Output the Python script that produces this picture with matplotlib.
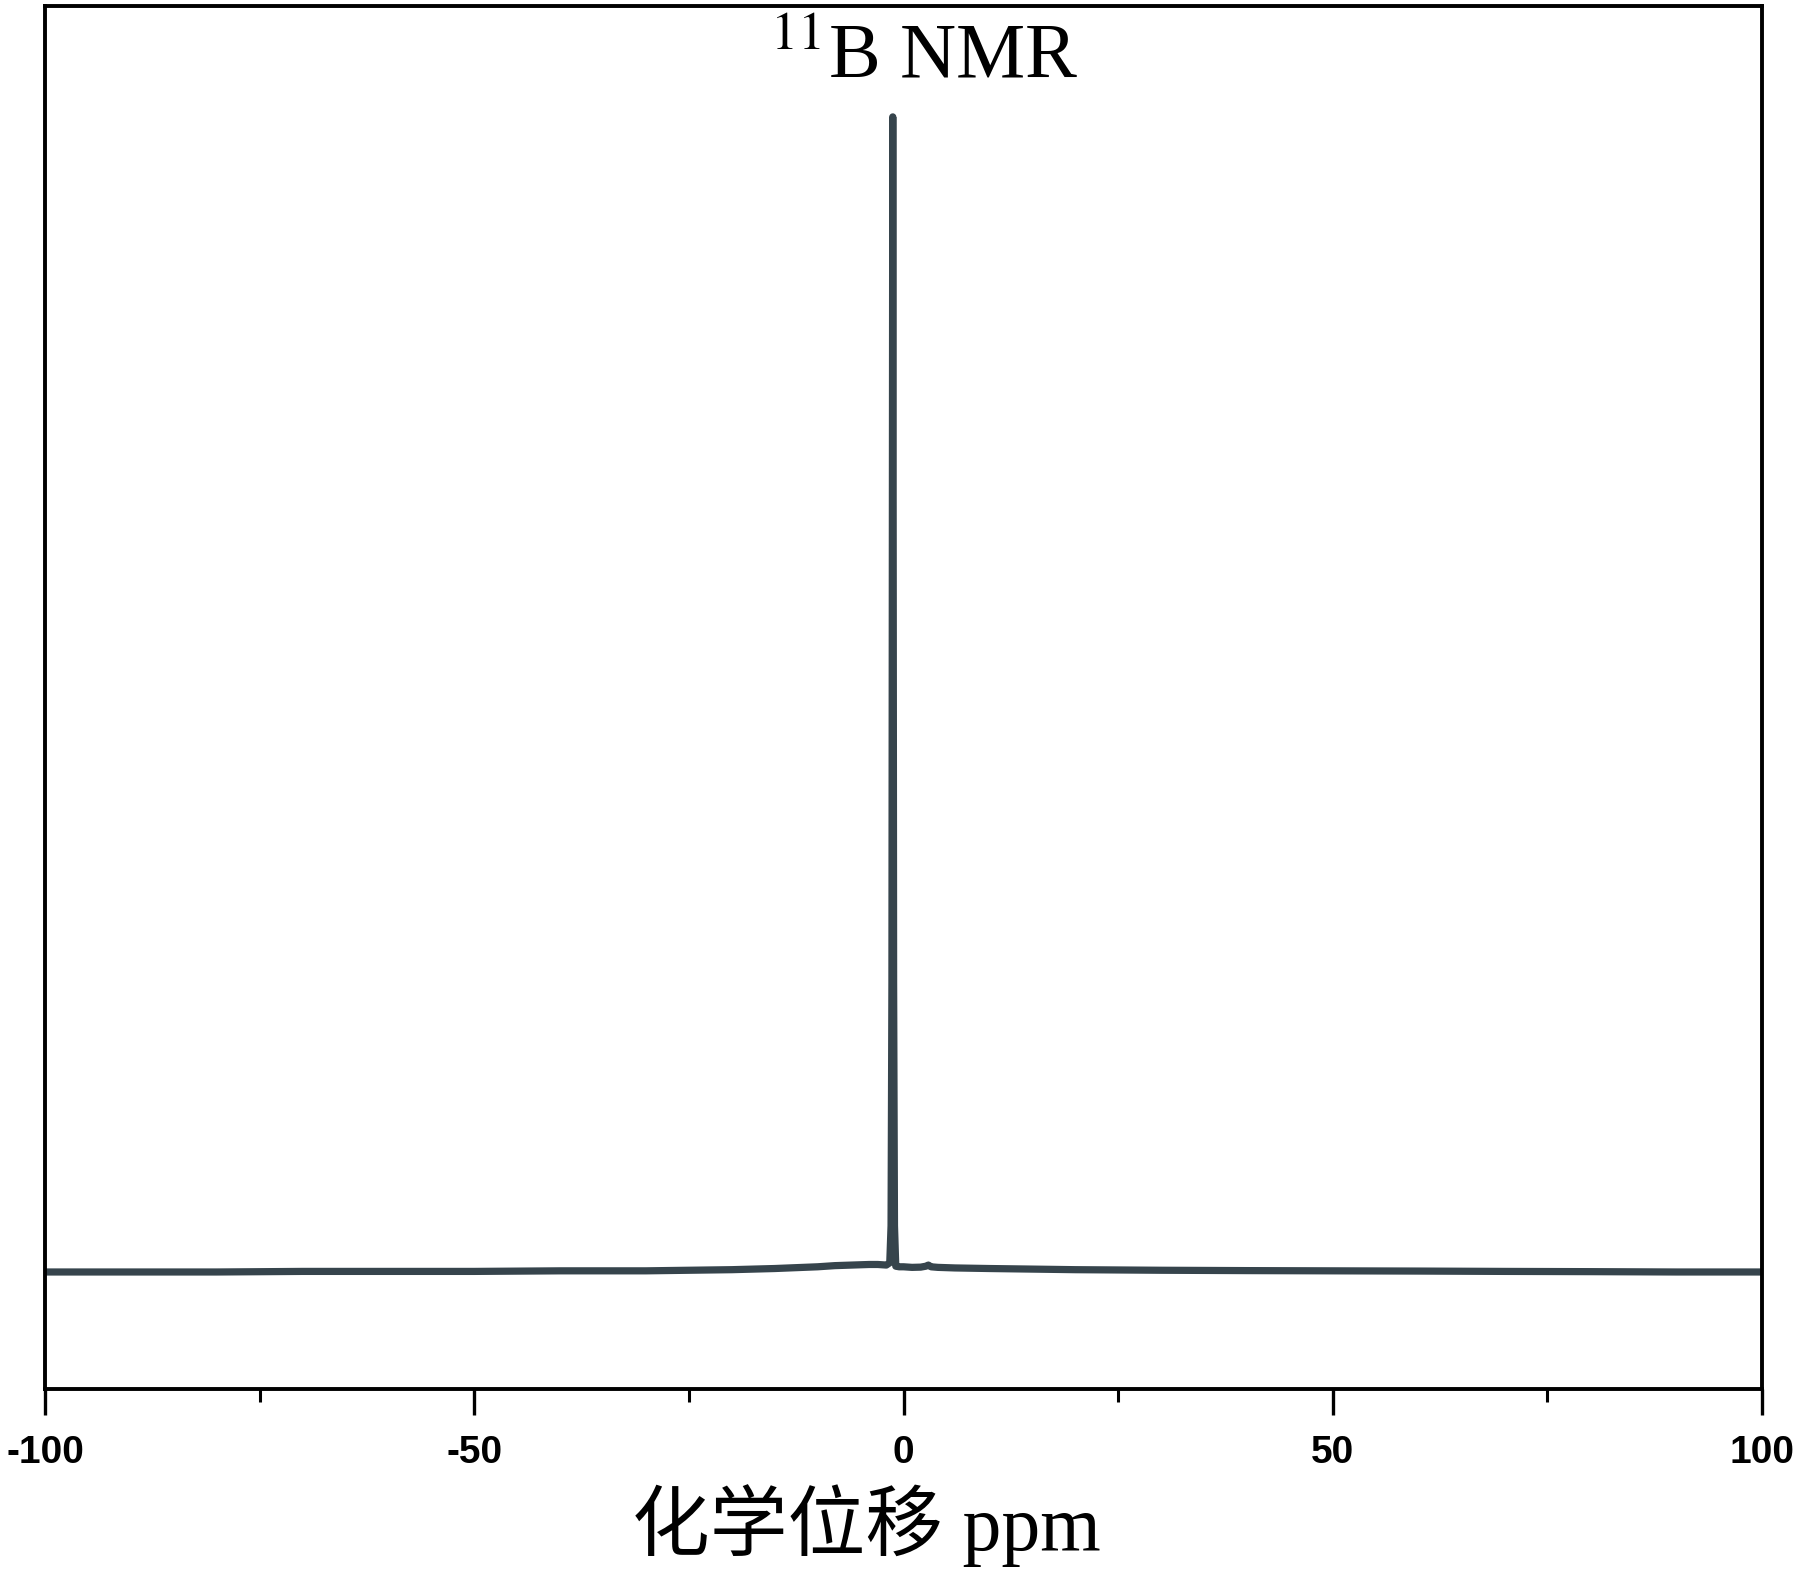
import matplotlib
matplotlib.use("Agg")
import matplotlib.pyplot as plt
from matplotlib.ticker import MultipleLocator

# Data (chemical shift in ppm, relative intensity)
shift_ppm = [-100, -90, -80, -70, -60, -50, -40, -30, -25, -20, -15, -10, -8, -6, -4,
             -3, -2, -1.6, -1.45, -1.35, -1.25, -1.15, -1.05, -0.9, -0.5, 0, 1, 2,
             2.6, 2.9, 3.2, 4, 6, 10, 15, 20, 30, 40, 50, 60, 70, 80, 90, 100]
intensity = [0.0, 0.0, 0.0, 0.05, 0.05, 0.05, 0.1, 0.1, 0.15, 0.2, 0.3, 0.45, 0.55, 0.6, 0.65,
             0.65, 0.6, 0.8, 4.0, 25.0, 100.0, 25.0, 4.0, 0.5, 0.45, 0.45, 0.4, 0.42,
             0.5, 0.6, 0.45, 0.4, 0.35, 0.3, 0.25, 0.2, 0.15, 0.12, 0.1, 0.08, 0.05, 0.03, 0.0, 0.0]

xticks = [-100, -50, 0, 50, 100]
xtick_labels = ["-100", "-50", "0", "50", "100"]
title_text = r"$^{11}$B NMR"
xlabel_text = "化学位移 ppm"

plt.rcParams['mathtext.fontset'] = 'stix'

W, H = 1800, 1575
fig = plt.figure(figsize=(W / 100, H / 100), dpi=100)
ax = fig.add_axes([45 / W, 1 - 1389 / H, (1762 - 45) / W, (1389 - 6) / H])

ax.plot(shift_ppm, intensity, color='#36444C', lw=5.2,
        solid_joinstyle='round', solid_capstyle='round')

ax.set_xlim(-100, 100)
ax.set_ylim(-10.13, 109.6)
ax.set_yticks([])
ax.set_xticks(xticks)
ax.set_xticklabels(xtick_labels, fontfamily='Liberation Sans', fontweight='bold', fontsize=28)
ax.xaxis.set_minor_locator(MultipleLocator(25))
ax.tick_params(axis='x', which='major', direction='out', length=19, width=2.4, pad=14)
ax.tick_params(axis='x', which='minor', direction='out', length=9.5, width=2.2)
for sp in ax.spines.values():
    sp.set_linewidth(2.8)

fig.text(924 / W, 1 - 78 / H, title_text, ha='center', va='baseline',
         fontsize=56, fontfamily='Liberation Serif')
fig.text(866 / W, 1 - 1550 / H, xlabel_text, ha='center', va='baseline',
         fontsize=56, fontfamily=['Liberation Serif', 'Noto Sans CJK SC'])

fig.savefig('out.png', dpi=100)
